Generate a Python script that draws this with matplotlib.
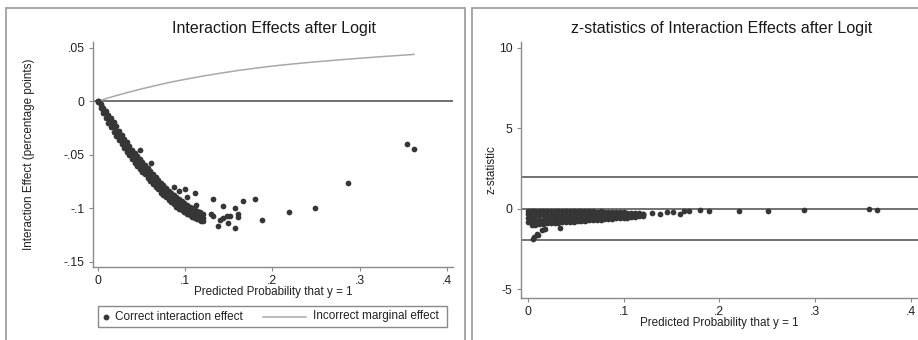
import numpy as np
import matplotlib
matplotlib.use("Agg")
import matplotlib.pyplot as plt
from matplotlib.patches import Rectangle
from matplotlib.lines import Line2D

plt.rcParams['font.family'] = ['Liberation Sans', 'DejaVu Sans']

# ---- data ----
# left panel: dense band of interaction effects (upper edge / middle / lower edge)
band_x = [0.000, 0.003, 0.006, 0.009, 0.012, 0.015, 0.018, 0.021, 0.024, 0.027,
          0.030, 0.033, 0.036, 0.039, 0.042, 0.045, 0.048, 0.051, 0.054, 0.057,
          0.060, 0.063, 0.066, 0.069, 0.072, 0.075, 0.078, 0.081, 0.084, 0.087,
          0.090, 0.093, 0.096, 0.099, 0.102, 0.105, 0.108, 0.111, 0.114, 0.117, 0.120]
band_hi = [0.000, -0.003, -0.006, -0.009, -0.0125, -0.016, -0.0195, -0.0235, -0.0275, -0.0315,
           -0.035, -0.0385, -0.0415, -0.0455, -0.0485, -0.0515, -0.0545, -0.057, -0.0595, -0.0625,
           -0.0655, -0.0685, -0.071, -0.0735, -0.0765, -0.0785, -0.081, -0.0835, -0.0855, -0.0875,
           -0.0895, -0.0915, -0.0935, -0.0955, -0.097, -0.0985, -0.100, -0.1015, -0.103, -0.104, -0.105]
band_mid = [0.000, -0.004, -0.008, -0.012, -0.016, -0.020, -0.024, -0.028, -0.032, -0.036,
            -0.0395, -0.043, -0.046, -0.050, -0.053, -0.056, -0.059, -0.0615, -0.064, -0.067,
            -0.070, -0.073, -0.0755, -0.078, -0.081, -0.083, -0.0855, -0.088, -0.090, -0.092,
            -0.094, -0.096, -0.0977, -0.0995, -0.101, -0.1025, -0.104, -0.1055, -0.107, -0.108, -0.109]
band_lo = [-0.001, -0.006, -0.011, -0.016, -0.0205, -0.0245, -0.0285, -0.0325, -0.0365, -0.0405,
           -0.044, -0.0475, -0.0505, -0.0545, -0.0575, -0.0605, -0.0635, -0.066, -0.0685, -0.0715,
           -0.0745, -0.0775, -0.080, -0.0825, -0.0855, -0.0875, -0.090, -0.0925, -0.0945, -0.0965,
           -0.0985, -0.1005, -0.102, -0.1035, -0.105, -0.1065, -0.108, -0.109, -0.110, -0.111, -0.112]

# left panel: scattered points off the band
out_x = [0.048, 0.0607, 0.0871, 0.0932, 0.0997, 0.1016, 0.111, 0.1123, 0.1177,
         0.1322, 0.1437, 0.157, 0.1666, 0.180, 0.160, 0.160, 0.130, 0.132,
         0.1398, 0.1437, 0.1475, 0.1513, 0.1494, 0.1379, 0.157, 0.1876,
         0.2193, 0.249, 0.2869, 0.3538, 0.3622]
out_y = [-0.0453, -0.0578, -0.080, -0.0836, -0.0817, -0.090, -0.0863, -0.097, -0.1118,
         -0.0919, -0.0981, -0.0997, -0.0935, -0.0919, -0.1059, -0.108, -0.1059, -0.1075,
         -0.1112, -0.1096, -0.1075, -0.1075, -0.1143, -0.1168, -0.119, -0.1112,
         -0.1034, -0.0997, -0.0764, -0.0397, -0.0444]

# left panel: incorrect marginal effect curve
me_x = [0.0, 0.01, 0.02, 0.035, 0.05, 0.08, 0.10, 0.12, 0.14, 0.16, 0.18,
        0.20, 0.225, 0.25, 0.275, 0.30, 0.33, 0.3622]
me_y = [0.0, 0.0026, 0.005, 0.0083, 0.0115, 0.0172, 0.0204, 0.0234, 0.0261, 0.0286, 0.0308,
        0.0328, 0.0349, 0.0368, 0.0385, 0.0401, 0.0419, 0.0437]

# right panel: z-statistics blob (rows from top to bottom)
z_x = [0.000, 0.004, 0.008, 0.012, 0.016, 0.020, 0.024, 0.028, 0.032, 0.036, 0.040,
       0.044, 0.048, 0.052, 0.056, 0.060, 0.064, 0.068, 0.072, 0.076, 0.080,
       0.084, 0.088, 0.092, 0.096, 0.100, 0.104, 0.108, 0.112, 0.116, 0.120]
z_top = [-0.12, -0.13, -0.14, -0.13, -0.15, -0.14, -0.13, -0.15, -0.14, -0.13, -0.15,
         -0.14, -0.16, -0.15, -0.14, -0.16, -0.17, -0.15, -0.18, -0.17, -0.19,
         -0.18, -0.20, -0.19, -0.21, -0.22, -0.24, -0.25, -0.27, -0.29, -0.32]
z_mid1 = [-0.36, -0.43, -0.44, -0.41, -0.41, -0.40, -0.39, -0.39, -0.38, -0.37, -0.38,
          -0.37, -0.38, -0.36, -0.35, -0.36, -0.36, -0.34, -0.35, -0.34, -0.35,
          -0.34, -0.34, -0.33, -0.34, -0.34, -0.34, -0.34, -0.35, -0.35, -0.36]
z_mid2 = [-0.61, -0.72, -0.74, -0.70, -0.68, -0.65, -0.64, -0.64, -0.63, -0.62, -0.61,
          -0.60, -0.59, -0.58, -0.56, -0.55, -0.54, -0.53, -0.53, -0.51, -0.50,
          -0.49, -0.49, -0.47, -0.46, -0.45, -0.45, -0.43, -0.42, -0.41, -0.40]
z_bot = [-0.85, -1.02, -1.04, -0.98, -0.94, -0.91, -0.90, -0.88, -0.87, -0.86, -0.84,
         -0.83, -0.81, -0.79, -0.77, -0.75, -0.73, -0.72, -0.70, -0.68, -0.66,
         -0.65, -0.63, -0.61, -0.59, -0.57, -0.55, -0.52, -0.50, -0.47, -0.44]

# right panel: scattered z points
zout_x = [0.0059, 0.007, 0.0094, 0.011, 0.0146, 0.018, 0.0334,
          0.1296, 0.138, 0.145, 0.152, 0.159, 0.1626, 0.168, 0.180, 0.1888,
          0.220, 0.2504, 0.2887, 0.3566, 0.3647]
zout_y = [-1.86, -1.75, -1.56, -1.65, -1.35, -1.25, -1.19,
          -0.27, -0.33, -0.23, -0.23, -0.33, -0.16, -0.16, -0.08, -0.16,
          -0.13, -0.13, -0.06, -0.04, -0.06]

ref_lines = [1.96, 0, -1.96]

left_xticks = [0, 0.1, 0.2, 0.3, 0.4]
left_xlabels = ['0', '.1', '.2', '.3', '.4']
left_yticks = [0.05, 0, -0.05, -0.1, -0.15]
left_ylabels = ['.05', '0', '-.05', '-.1', '-.15']
right_yticks = [10, 5, 0, -5]
right_ylabels = ['10', '5', '0', '-5']

# ---- drawing ----
W, H = 918, 340
dot = '#363636'
spine = '#8a8a8a'
refc = '#4a4a4a'
mec = '#a9a9a9'
txt = '#222222'
dot_s = 17

fig = plt.figure(figsize=(W / 100, H / 100), dpi=100)
fig.patch.set_facecolor('white')

# panel frames
for x0, x1 in [(6, 465), (472, 930)]:
    fig.add_artist(Rectangle((x0 / W, -0.1), (x1 - x0) / W, 1.1 - 8 / H,
                             transform=fig.transFigure, fill=False,
                             ec='#a0a0a0', lw=1.3))


def style(ax):
    for s in ['top', 'right']:
        ax.spines[s].set_visible(False)
    for s in ['left', 'bottom']:
        ax.spines[s].set_color(spine)
        ax.spines[s].set_linewidth(1.0)
    ax.tick_params(length=3, width=0.8, color=spine, labelsize=8.8,
                   labelcolor=txt, pad=3)
    ax.set_facecolor('white')


ax1 = fig.add_axes([93 / W, 1 - 267 / H, 360 / W, 225 / H])
style(ax1)
ax1.axhline(0, color=refc, lw=1.1, zorder=1)
ax1.plot(me_x, me_y, color=mec, lw=1.1, zorder=2)
ax1.scatter(band_x + band_x + band_x, band_hi + band_mid + band_lo,
            s=dot_s, color=dot, lw=0, zorder=3)
ax1.scatter(out_x, out_y, s=dot_s, color=dot, lw=0, zorder=3)
ax1.set_xlim(-0.0057, 0.407)
ax1.set_ylim(-0.155, 0.0553)
ax1.set_xticks(left_xticks)
ax1.set_xticklabels(left_xlabels)
ax1.set_yticks(left_yticks)
ax1.set_yticklabels(left_ylabels)
ax1.set_xlabel('Predicted Probability that y = 1', fontsize=8.4, labelpad=-1,
               color=txt)
ax1.set_ylabel('Interaction Effect (percentage points)', fontsize=8.4, color=txt)
ax1.yaxis.set_label_coords(-0.16, 0.5)

ax2 = fig.add_axes([521 / W, 1 - 298 / H, 397 / W, 256.3 / H])
style(ax2)
for r in ref_lines:
    ax2.axhline(r, color=refc, lw=1.1, zorder=1)
ax2.scatter(z_x * 4, z_top + z_mid1 + z_mid2 + z_bot, s=dot_s, color=dot, lw=0, zorder=3)
ax2.scatter(zout_x, zout_y, s=dot_s, color=dot, lw=0, zorder=3)
ax2.set_xlim(-0.007, 0.4073)
ax2.set_ylim(-5.55, 10.37)
ax2.set_xticks(left_xticks)
ax2.set_xticklabels(left_xlabels)
ax2.set_yticks(right_yticks)
ax2.set_yticklabels(right_ylabels)
ax2.set_xlabel('Predicted Probability that y = 1', fontsize=8.4, labelpad=-1,
               color=txt)
ax2.set_ylabel('z-statistic', fontsize=8.4, color=txt)
ax2.yaxis.set_label_coords(-0.06, 0.5)

# titles
fig.text(274 / W, 1 - 29 / H, 'Interaction Effects after Logit',
         ha='center', va='center', fontsize=11.5, color='#1a1a1a')
fig.text(722 / W, 1 - 29 / H, 'z-statistics of Interaction Effects after Logit',
         ha='center', va='center', fontsize=11.5, color='#1a1a1a')

# legend box
ly = 1 - 316.5 / H
fig.add_artist(Rectangle((98 / W, 1 - 327 / H), 349 / W, 21 / H,
                         transform=fig.transFigure, fill=False, ec='#8a8a8a', lw=1))
fig.add_artist(Line2D([106 / W], [ly], marker='o', ms=3.2, color=dot, lw=0,
                      transform=fig.transFigure))
fig.text(115 / W, ly, 'Correct interaction effect', va='center', fontsize=8.5,
         color=txt)
fig.add_artist(Line2D([263 / W, 306 / W], [ly, ly], color=mec, lw=1.1,
                      transform=fig.transFigure))
fig.text(313 / W, ly, 'Incorrect marginal effect', va='center', fontsize=8.5,
         color=txt)

fig.savefig('out.png', dpi=100)
